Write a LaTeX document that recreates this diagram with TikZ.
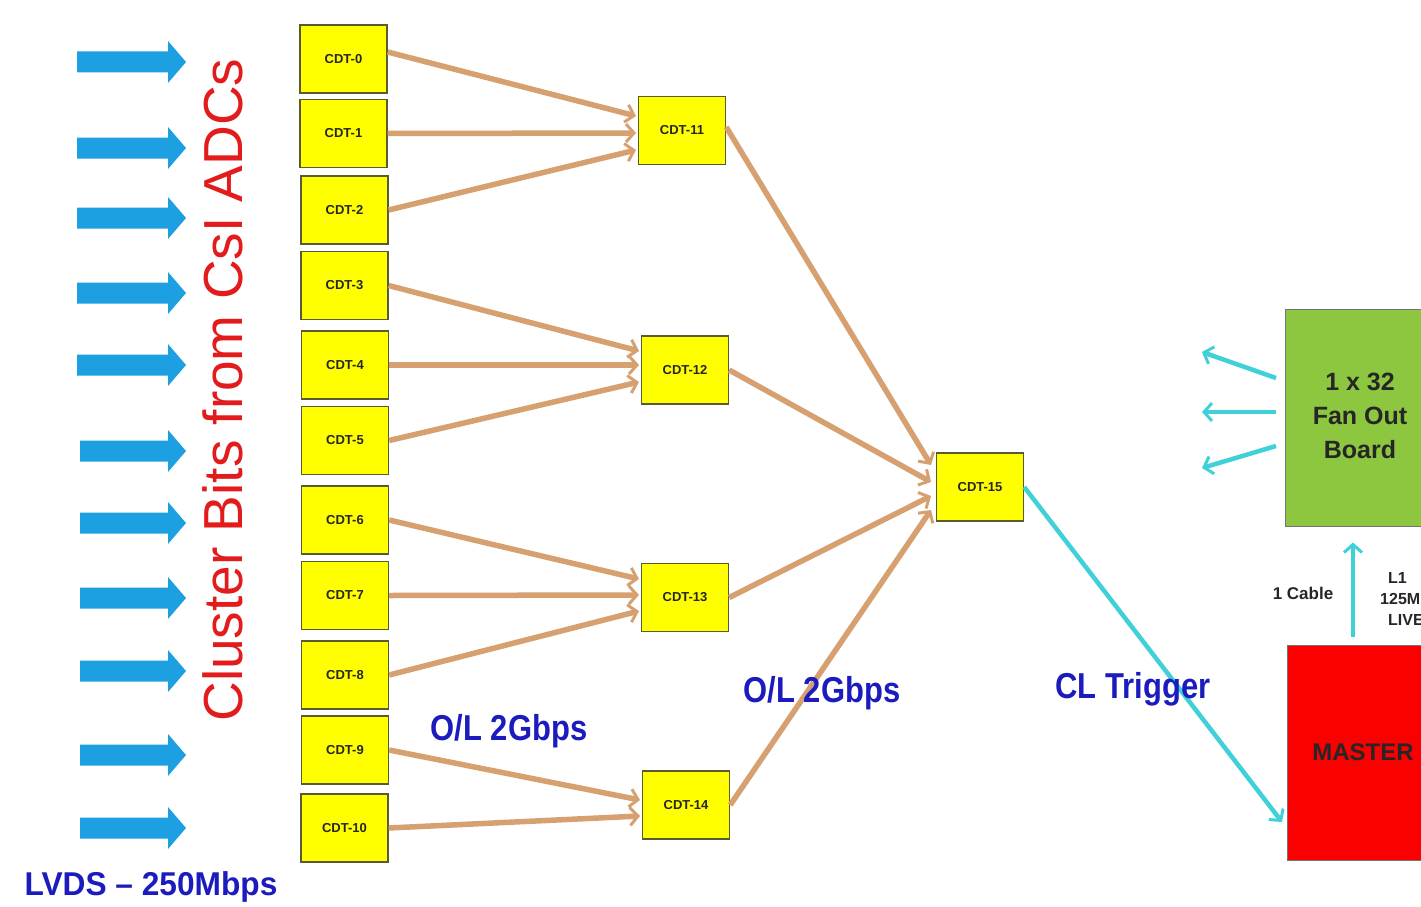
\documentclass[tikz,border=0pt]{standalone}
\usepackage{fontspec}
\setmainfont{Liberation Sans}
\usetikzlibrary{arrows.meta}
\definecolor{cdtyellow}{RGB}{255,255,0}
\definecolor{cdtborder}{RGB}{90,90,50}
\definecolor{fangreen}{RGB}{141,198,63}
\definecolor{masterred}{RGB}{250,0,0}
\definecolor{blockblue}{RGB}{28,160,226}
\definecolor{tanline}{RGB}{214,160,112}
\definecolor{cyanline}{RGB}{64,208,216}
\definecolor{labelblue}{RGB}{28,28,190}
\definecolor{titlered}{RGB}{226,28,28}
\tikzset{
  cdt/.style={draw=cdtborder, line width=1.4pt, fill=cdtyellow, minimum width=87pt, minimum height=68pt, inner sep=0pt, font=\fontsize{13}{14}\selectfont\bfseries, text=black!85},
  tanarrow/.style={draw=tanline, line width=5.5pt, -{Straight Barb[length=8pt,width=18pt,line width=3pt]}},
  cyanarrow/.style={draw=cyanline, line width=4.5pt, -{Straight Barb[length=8pt,width=18pt,line width=3pt]}},
  bluelabel/.style={text=labelblue, font=\fontsize{36}{40}\selectfont\bfseries, xscale=0.86, inner sep=0pt},
  darklabel/.style={text=black!85, font=\fontsize{17}{19}\selectfont\bfseries, inner sep=0pt},
}
\begin{document}
\begin{tikzpicture}[x=1pt,y=-1pt]
\useasboundingbox (0,0) rectangle (1421,907);
\clip (0,0) rectangle (1421,907);
\fill[white] (0,0) rectangle (1421,907);

% input block arrows
\foreach \yy/\xx in {62/77,148/77,218/77,293/77,365/77,451/80,523/80,598/80,671/80,755/80,828/80}{
  \fill[blockblue] (\xx,\yy-10.5) -- (168,\yy-10.5) -- (168,\yy-21) -- (186,\yy) -- (168,\yy+21) -- (168,\yy+10.5) -- (\xx,\yy+10.5) -- cycle;
}

% vertical red title
\node[rotate=90, text=titlered, font=\fontsize{55}{60}\selectfont, inner sep=0pt] (title) at (223,390) {Cluster Bits from CsI ADCs};

% left column
\node[cdt] (c0) at (343.5,59) {CDT-0};
\node[cdt] (c1) at (343.5,133.5) {CDT-1};
\node[cdt] (c2) at (344.5,210) {CDT-2};
\node[cdt] (c3) at (344.5,285.5) {CDT-3};
\node[cdt] (c4) at (345,365) {CDT-4};
\node[cdt] (c5) at (345,440.5) {CDT-5};
\node[cdt] (c6) at (345,520) {CDT-6};
\node[cdt] (c7) at (345,595.5) {CDT-7};
\node[cdt] (c8) at (345,675) {CDT-8};
\node[cdt] (c9) at (345,750) {CDT-9};
\node[cdt] (c10) at (344.5,828) {CDT-10};

% middle column
\node[cdt] (c11) at (682,130.5) {CDT-11};
\node[cdt] (c12) at (685,370) {CDT-12};
\node[cdt] (c13) at (685,597.5) {CDT-13};
\node[cdt] (c14) at (686,805) {CDT-14};
\node[cdt] (c15) at (980,487) {CDT-15};

% right boards
\node[draw=black!55, line width=1pt, fill=fangreen, minimum width=155pt, minimum height=217pt, inner sep=0pt] (fan) at (1362.5,417.5) {};
\node[font=\fontsize{25}{34}\selectfont\bfseries, text=black!85, align=center, inner sep=0pt] (fantext) at (1360,416) {1 x 32\\Fan Out\\Board};
\node[draw=black!55, line width=1pt, fill=masterred, minimum width=155pt, minimum height=215pt, inner sep=0pt] (master) at (1364.5,752.5) {};
\node[font=\fontsize{24}{28}\selectfont\bfseries, text=black!85, inner sep=0pt] (mastertext) at (1363,752) {MASTER};

% tan connectors
\coordinate (i11a) at (636,116);
\coordinate (i11b) at (636,133);
\coordinate (i11c) at (636,150);
\draw[tanarrow] (c0.east |- 0,52) -- (i11a);
\draw[tanarrow] (c1.east) -- (i11b);
\draw[tanarrow] (c2.east) -- (i11c);
\coordinate (i12a) at (639,351);
\coordinate (i12b) at (639,365);
\coordinate (i12c) at (639,382);
\draw[tanarrow] (c3.east) -- (i12a);
\draw[tanarrow] (c4.east) -- (i12b);
\draw[tanarrow] (c5.east) -- (i12c);
\coordinate (i13a) at (639,579);
\coordinate (i13b) at (639,595);
\coordinate (i13c) at (639,611);
\draw[tanarrow] (c6.east) -- (i13a);
\draw[tanarrow] (c7.east) -- (i13b);
\draw[tanarrow] (c8.east) -- (i13c);
\coordinate (i14a) at (640,800);
\coordinate (i14b) at (640,816);
\draw[tanarrow] (c9.east) -- (i14a);
\draw[tanarrow] (c10.east) -- (i14b);
\coordinate (i15a) at (931,465);
\coordinate (i15b) at (931,482);
\coordinate (i15c) at (931,496);
\coordinate (i15d) at (931,510);
\draw[tanarrow] (c11.east |- 0,127) -- (i15a);
\draw[tanarrow] (c12.east) -- (i15b);
\draw[tanarrow] (c13.east) -- (i15c);
\draw[tanarrow] (c14.east) -- (i15d);

% cyan connectors
\coordinate (mIn) at (1282,822);
\draw[cyanarrow] (c15.east) -- (mIn);
\coordinate (f1s) at (1276,378);
\coordinate (f1e) at (1202,352);
\coordinate (f2s) at (1276,412);
\coordinate (f2e) at (1202,412);
\coordinate (f3s) at (1276,446);
\coordinate (f3e) at (1202,468);
\draw[cyanarrow] (f1s) -- (f1e);
\draw[cyanarrow] (f2s) -- (f2e);
\draw[cyanarrow] (f3s) -- (f3e);
\draw[cyanarrow, shorten <=8pt, shorten >=16pt] (master.north -| 1353,0) -- (fan.south -| 1353,0);

% labels
\node[bluelabel] (ol1) at (509,731) {O/L 2Gbps};
\node[bluelabel] (ol2) at (822,693) {O/L 2Gbps};
\node[bluelabel] (clt) at (1133,689) {CL Trigger};
\node[text=labelblue, font=\fontsize{33}{36}\selectfont\bfseries, xscale=0.96, inner sep=0pt] (lvds) at (151,887) {LVDS -- 250Mbps};
\node[darklabel] (cable) at (1303,593) {1 Cable};
\node[darklabel, font=\fontsize{16}{21}\selectfont\bfseries, anchor=west] (l1a) at (1388,578) {L1};
\node[darklabel, font=\fontsize{16}{21}\selectfont\bfseries, anchor=west] (l1b) at (1380,599) {125M};
\node[darklabel, font=\fontsize{16}{21}\selectfont\bfseries, anchor=west] (l1c) at (1388,620) {LIVE};
\end{tikzpicture}
\end{document}
